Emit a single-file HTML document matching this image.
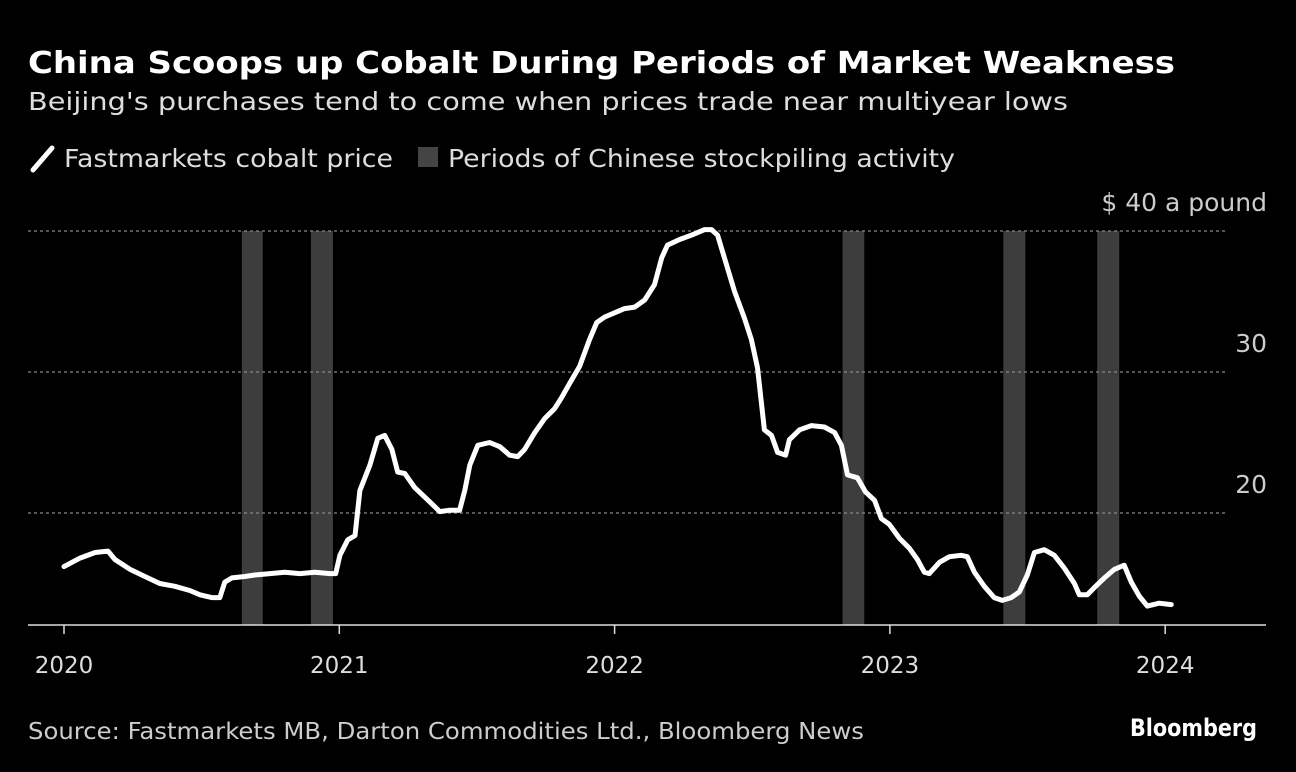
<!DOCTYPE html>
<html><head><meta charset="utf-8"><style>
html,body{margin:0;padding:0;background:#000;}
svg{display:block;font-family:"DejaVu Sans","Liberation Sans",sans-serif;}
</style></head><body>
<svg id="chart" width="1296" height="772" viewBox="0 0 1296 772">
<rect width="1296" height="772" fill="#000"/>
<text x="28" y="73" fill="#fff" font-size="30" font-weight="bold" textLength="1147" lengthAdjust="spacingAndGlyphs">China Scoops up Cobalt During Periods of Market Weakness</text>
<text x="28" y="110" fill="#ddd" font-size="25" textLength="1040" lengthAdjust="spacingAndGlyphs">Beijing's purchases tend to come when prices trade near multiyear lows</text>
<g>
<line x1="33" y1="170" x2="52" y2="148" stroke="#fff" stroke-width="5" stroke-linecap="round"/>
<text x="64" y="167" fill="#ddd" font-size="25" textLength="329" lengthAdjust="spacingAndGlyphs">Fastmarkets cobalt price</text>
<rect x="418" y="147" width="20" height="20" fill="#444"/>
<text x="448" y="167" fill="#ddd" font-size="25" textLength="507" lengthAdjust="spacingAndGlyphs">Periods of Chinese stockpiling activity</text>
</g>
<g id="shades"></g>
<g id="grid"></g>
<g id="xaxis"></g>
<g id="series"></g>
<text x="28" y="739" fill="#ccc" font-size="23" textLength="836" lengthAdjust="spacingAndGlyphs">Source: Fastmarkets MB, Darton Commodities Ltd., Bloomberg News</text>
<text x="1257" y="736" fill="#fff" font-size="24" font-weight="bold" text-anchor="end" textLength="127" lengthAdjust="spacingAndGlyphs">Bloomberg</text>
</svg>
<script>
const dates=[2020,2020.058,2020.113,2020.160,2020.185,2020.240,2020.294,2020.348,2020.403,2020.457,2020.494,2020.537,2020.566,2020.584,2020.610,2020.657,2020.693,2020.748,2020.802,2020.857,2020.911,2020.966,2020.987,2021.002,2021.031,2021.057,2021.075,2021.111,2021.140,2021.165,2021.191,2021.212,2021.238,2021.274,2021.328,2021.365,2021.401,2021.437,2021.456,2021.474,2021.503,2021.546,2021.583,2021.619,2021.648,2021.673,2021.710,2021.746,2021.782,2021.808,2021.837,2021.873,2021.909,2021.935,2021.964,2022.000,2022.036,2022.073,2022.109,2022.145,2022.171,2022.192,2022.236,2022.279,2022.327,2022.352,2022.374,2022.399,2022.436,2022.472,2022.497,2022.519,2022.544,2022.570,2022.592,2022.621,2022.635,2022.672,2022.715,2022.762,2022.799,2022.824,2022.846,2022.882,2022.911,2022.944,2022.969,2022.998,2023.035,2023.071,2023.100,2023.125,2023.143,2023.180,2023.216,2023.259,2023.281,2023.307,2023.343,2023.379,2023.408,2023.441,2023.470,2023.499,2023.525,2023.561,2023.597,2023.633,2023.670,2023.688,2023.717,2023.742,2023.779,2023.815,2023.851,2023.877,2023.906,2023.935,2023.978,2024.022];
const prices=[16.2,16.8,17.2,17.3,16.7,16.0,15.5,15.0,14.8,14.5,14.2,14.0,14.0,15.1,15.4,15.5,15.6,15.7,15.8,15.7,15.8,15.7,15.7,17.0,18.1,18.4,21.6,23.4,25.3,25.5,24.5,22.9,22.8,21.8,20.8,20.1,20.2,20.2,21.6,23.4,24.8,25.0,24.7,24.1,24.0,24.5,25.7,26.7,27.4,28.2,29.2,30.4,32.3,33.5,33.9,34.2,34.5,34.6,35.1,36.2,38.1,39.0,39.4,39.7,40.1,40.1,39.7,38.1,35.7,33.8,32.3,30.3,25.9,25.5,24.3,24.1,25.2,25.9,26.2,26.1,25.7,24.8,22.7,22.5,21.5,20.9,19.6,19.2,18.2,17.5,16.7,15.8,15.7,16.5,16.9,17.0,16.9,15.8,14.8,14.0,13.8,14.0,14.4,15.6,17.2,17.4,17.0,16.1,15.0,14.2,14.2,14.7,15.4,16.0,16.3,15.1,14.1,13.4,13.6,13.5];
const periodStarts=[2020.646,2020.897,2022.828,2023.412,2023.753];
const periodEnds=[2020.722,2020.977,2022.907,2023.492,2023.833];
const yTicks=[20,30,40];
const yTickLabels=["20","30","$ 40 a pound"];
const xTicks=[2020,2021,2022,2023,2024];
const xTickLabels=["2020","2021","2022","2023","2024"];

const NS="http://www.w3.org/2000/svg";
const X=t=>64+(t-2020)*275.3;
const Y=v=>231+(40-v)*14.1;
function mk(tag,attrs,parent,txt){const e=document.createElementNS(NS,tag);for(const k in attrs)e.setAttribute(k,attrs[k]);if(txt!==undefined)e.textContent=txt;parent.appendChild(e);return e;}
const gS=document.getElementById('shades'),gG=document.getElementById('grid'),gX=document.getElementById('xaxis'),gL=document.getElementById('series');
periodStarts.forEach((s,i)=>{
  const r=mk('rect',{x:X(s),y:231,width:X(periodEnds[i])-X(s),height:394,fill:'#3d3d3d'},gS);
  
  
});
yTicks.forEach((v,i)=>{
  const l=mk('line',{x1:28,x2:1225,y1:Y(v),y2:Y(v),stroke:'#888','stroke-width':1.2,'stroke-dasharray':'3,3'},gG);
  
  
  const t=mk('text',{x:1267,y:Y(v)-20,fill:'#ccc','font-size':25,'text-anchor':'end'},gG,yTickLabels[i]);
  
  
});
const base=mk('line',{x1:28,x2:1266,y1:625,y2:625,stroke:'#ddd','stroke-width':1.5},gX);


xTicks.forEach((t,i)=>{
  const l=mk('line',{x1:X(t),x2:X(t),y1:625,y2:634,stroke:'#ddd','stroke-width':1.5},gX);
  
  
  const tx=mk('text',{x:X(t),y:673,fill:'#ddd','font-size':23,'text-anchor':'middle'},gX,xTickLabels[i]);
  
  
});
const d=dates.map((t,i)=>(i?'L':'M')+X(t).toFixed(1)+','+Y(prices[i]).toFixed(1)).join(' ');
const p=mk('path',{d:d,fill:'none',stroke:'#fff','stroke-width':5,'stroke-linejoin':'round','stroke-linecap':'round'},gL);


</script>
</body></html>
